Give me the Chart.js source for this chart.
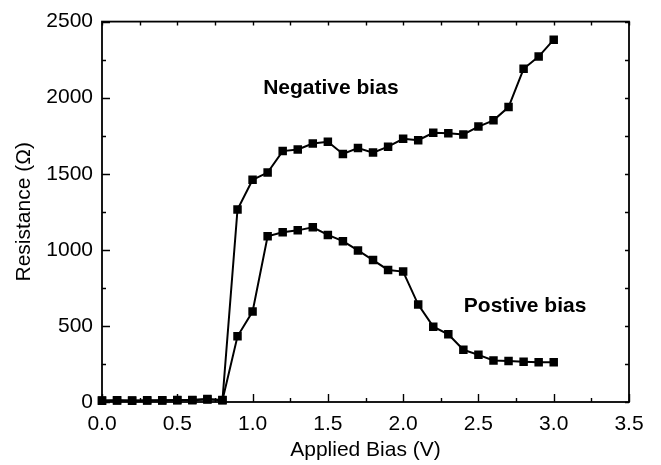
<!DOCTYPE html>
<html>
<head>
<meta charset="utf-8">
<script src="https://cdn.jsdelivr.net/npm/chart.js@4/dist/chart.umd.min.js"></script>
<style>
  body { margin: 0; background: #fff; }
  #wrap { width: 661px; height: 465px; }
</style>
</head>
<body>
<div id="wrap"><canvas id="myChart" width="661" height="465"></canvas></div>
<script>
// applied bias (V)
var biasV = [0.0, 0.1, 0.2, 0.3, 0.4, 0.5, 0.6, 0.7, 0.8, 0.9, 1.0,
             1.1, 1.2, 1.3, 1.4, 1.5, 1.6, 1.7, 1.8, 1.9, 2.0,
             2.1, 2.2, 2.3, 2.4, 2.5, 2.6, 2.7, 2.8, 2.9, 3.0];
// resistance (ohm)
var negBias = [10, 12, 10, 11, 12, 13, 14, 20, 13, 1265, 1460,
               1508, 1649, 1660, 1699, 1710, 1630, 1669, 1639, 1678, 1730,
               1721, 1769, 1767, 1758, 1810, 1851, 1938, 2190, 2270, 2381];
var posBias = [8, 10, 8, 9, 10, 11, 12, 16, 11, 432, 594,
               1089, 1115, 1128, 1148, 1098, 1057, 996, 933, 868, 857,
               640, 495, 445, 343, 310, 273, 269, 265, 262, 262];
var xTicks = [0, 0.5, 1.0, 1.5, 2.0, 2.5, 3.0, 3.5];
var yTicks = [0, 500, 1000, 1500, 2000, 2500];
var notes = [
  { text: 'Negative bias', x: 1.52, y: 2060 },
  { text: 'Postive bias', x: 2.81, y: 628 }
];

var FONT = "'Liberation Sans', Arial, Helvetica, sans-serif";

function toPoints(ys) {
  return biasV.map(function(x, i) { return { x: x, y: ys[i] }; });
}

var frameTicks = {
  id: 'frameTicks',
  afterDraw: function(chart) {
    var ctx = chart.ctx, a = chart.chartArea;
    var xs = chart.scales.x, ys = chart.scales.y;
    ctx.save();
    ctx.strokeStyle = '#000';
    ctx.lineWidth = 1.8;
    ctx.strokeRect(a.left, a.top, a.right - a.left, a.bottom - a.top);
    ctx.lineWidth = 1.4;
    ctx.beginPath();
    var v, p, len;
    for (v = 0; v <= 3.5001; v += 0.25) {
      p = Math.round(xs.getPixelForValue(v)) + 0.5;
      len = (Math.abs(v * 2 - Math.round(v * 2)) < 1e-6) ? 8 : 4;
      ctx.moveTo(p, a.bottom); ctx.lineTo(p, a.bottom - len);
      ctx.moveTo(p, a.top); ctx.lineTo(p, a.top + 4);
    }
    for (v = 0; v <= 2500; v += 250) {
      p = Math.round(ys.getPixelForValue(v)) + 0.5;
      len = (v % 500 === 0) ? 8 : 4;
      ctx.moveTo(a.left, p); ctx.lineTo(a.left + len, p);
      ctx.moveTo(a.right, p); ctx.lineTo(a.right - 4, p);
    }
    ctx.stroke();
    // text notes
    ctx.fillStyle = '#000';
    ctx.font = 'bold 21px ' + FONT;
    ctx.textAlign = 'center';
    ctx.textBaseline = 'middle';
    notes.forEach(function(n) {
      ctx.fillText(n.text, xs.getPixelForValue(n.x), ys.getPixelForValue(n.y));
    });
    ctx.restore();
  }
};

var ds = function(label, ys) {
  return {
    label: label,
    data: toPoints(ys),
    borderColor: '#000',
    backgroundColor: '#000',
    borderWidth: 2,
    pointStyle: 'rect',
    pointRadius: 6,
    pointBorderWidth: 0,
    tension: 0,
    clip: 6
  };
};

var myChart = new Chart(document.getElementById('myChart'), {
  type: 'line',
  data: { datasets: [ds('Negative bias', negBias), ds('Postive bias', posBias)] },
  plugins: [frameTicks],
  options: {
    responsive: false,
    animation: false,
    layout: { padding: { top: 18, right: 32, left: 0, bottom: 0 } },
    plugins: { legend: { display: false }, tooltip: { enabled: false } },
    scales: {
      x: {
        type: 'linear', min: 0, max: 3.5,
        grid: { display: false, drawTicks: false },
        border: { display: false },
        afterBuildTicks: function(s) { s.ticks = xTicks.map(function(v) { return { value: v }; }); },
        afterFit: function(s) { s.height = 63; },
        ticks: {
          color: '#000', padding: 10, maxRotation: 0,
          font: { family: FONT, size: 21 },
          callback: function(v) { return Number(v).toFixed(1); }
        },
        title: {
          display: true, text: 'Applied Bias (V)', color: '#000',
          font: { family: FONT, size: 21 }, padding: { top: 0, bottom: 2 }
        }
      },
      y: {
        type: 'linear', min: 0, max: 2500,
        grid: { display: false, drawTicks: false },
        border: { display: false },
        afterBuildTicks: function(s) { s.ticks = yTicks.map(function(v) { return { value: v }; }); },
        afterFit: function(s) { s.width = 102; },
        ticks: {
          color: '#000', padding: 9,
          font: { family: FONT, size: 21 },
          callback: function(v) { return String(v); }
        },
        title: {
          display: true, text: 'Resistance (Ω)', color: '#000',
          font: { family: FONT, size: 21 }, padding: { top: 12, bottom: 0 }
        }
      }
    }
  }
});
</script>
</body>
</html>
